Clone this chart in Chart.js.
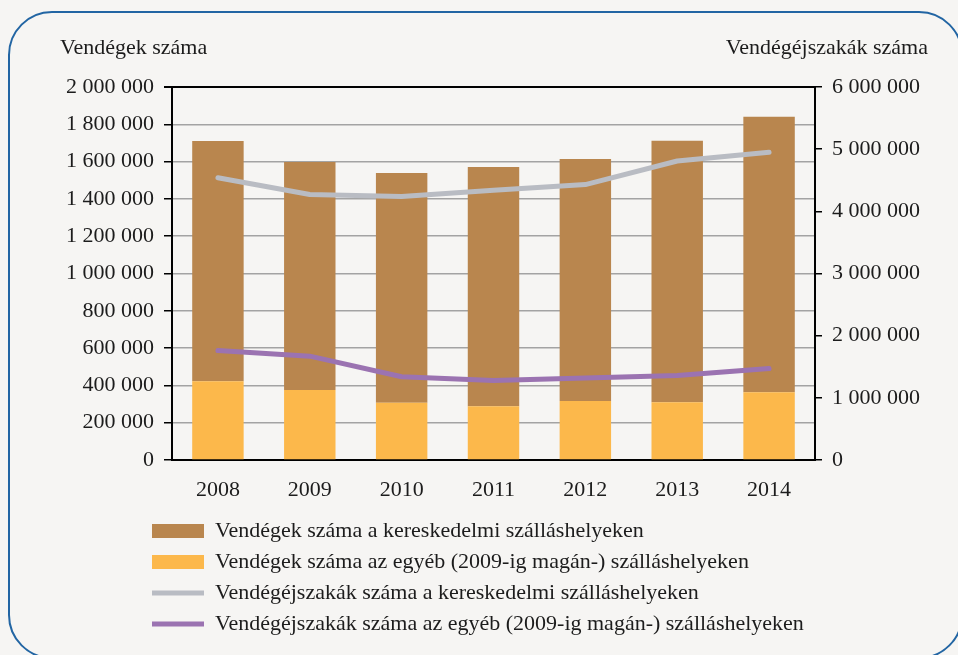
<!DOCTYPE html>
<html lang="hu">
<head>
<meta charset="utf-8">
<title>Vendégek és vendégéjszakák száma</title>
<script src="https://cdn.jsdelivr.net/npm/chart.js@4.4.1/dist/chart.umd.min.js"></script>
<style>
  html, body { margin: 0; padding: 0; background: #f6f5f3; overflow: hidden; }
  #wrap { position: relative; width: 958px; height: 655px; }
  #frame {
    position: absolute; left: 8px; top: 11px; width: 955px; height: 648px;
    border: 2px solid #2265a3; border-radius: 44px; box-sizing: border-box;
  }
  #chart { position: absolute; left: 0; top: 0; }
</style>
</head>
<body>
<div id="wrap">
  <div id="frame"></div>
  <canvas id="chart" width="958" height="655"></canvas>
</div>
<script>
// Years on the category axis
const years = ['2008', '2009', '2010', '2011', '2012', '2013', '2014'];

// Guests (left axis), stacked bars
const guestsOther = [422000, 375000, 307000, 288000, 316000, 309000, 363000];
const guestsCommercial = [1289000, 1223000, 1232000, 1283000, 1298000, 1403000, 1477000];

// Guest nights (right axis), lines
const nightsCommercial = [4540000, 4270000, 4240000, 4340000, 4430000, 4810000, 4950000];
const nightsOther = [1760000, 1670000, 1340000, 1280000, 1320000, 1360000, 1470000];

// Series names
const seriesNames = [
  'Vendégek száma a kereskedelmi szálláshelyeken',
  'Vendégek száma az egyéb (2009-ig magán-) szálláshelyeken',
  'Vendégéjszakák száma a kereskedelmi szálláshelyeken',
  'Vendégéjszakák száma az egyéb (2009-ig magán-) szálláshelyeken'
];

// Axis titles
const leftTitle = 'Vendégek száma';
const rightTitle = 'Vendégéjszakák száma';

const FONT = "'Liberation Serif', 'DejaVu Serif', serif";
const TEXT = '#1c1c1c';
Chart.defaults.font.family = FONT;
Chart.defaults.font.size = 22;
Chart.defaults.color = TEXT;

const fmt = v => String(v).replace(/\B(?=(\d{3})+(?!\d))/g, ' ');

// Axis titles written horizontally above both value axes
const axisTitles = {
  id: 'axisTitles',
  afterDraw(chart) {
    const ctx = chart.ctx;
    ctx.save();
    ctx.font = '22px ' + FONT;
    ctx.fillStyle = TEXT;
    ctx.textBaseline = 'middle';
    ctx.textAlign = 'left';
    ctx.fillText(leftTitle, 60, 48);
    ctx.textAlign = 'right';
    ctx.fillText(rightTitle, 928, 48);
    ctx.restore();
  }
};

// Left-aligned legend column under the plot
const legendShift = {
  id: 'legendShift',
  afterLayout(chart) {
    if (chart.legend) chart.legend.left = 143;
  }
};

// Legend order: bars first (top segment first), then lines
const legendRank = [1, 0, 2, 3];

new Chart(document.getElementById('chart'), {
  data: {
    labels: years,
    datasets: [
      {
        type: 'bar', label: seriesNames[1], data: guestsOther,
        backgroundColor: '#fcb84b', yAxisID: 'y', stack: 'guests', order: 1,
        pointStyle: 'rect'
      },
      {
        type: 'bar', label: seriesNames[0], data: guestsCommercial,
        backgroundColor: '#b9864e', yAxisID: 'y', stack: 'guests', order: 1,
        pointStyle: 'rect'
      },
      {
        type: 'line', label: seriesNames[2], data: nightsCommercial,
        borderColor: '#b9bcc3', backgroundColor: '#b9bcc3', borderWidth: 5,
        borderCapStyle: 'round', borderJoinStyle: 'round',
        pointRadius: 0, pointStyle: 'line', yAxisID: 'y1', order: 0, tension: 0
      },
      {
        type: 'line', label: seriesNames[3], data: nightsOther,
        borderColor: '#9b73b1', backgroundColor: '#9b73b1', borderWidth: 5,
        borderCapStyle: 'round', borderJoinStyle: 'round',
        pointRadius: 0, pointStyle: 'line', yAxisID: 'y1', order: 0, tension: 0
      }
    ]
  },
  options: {
    responsive: false,
    animation: false,
    layout: { padding: { top: 87, bottom: 10, left: 0, right: 0 } },
    datasets: {
      bar: { categoryPercentage: 1, barPercentage: 0.56 }
    },
    scales: {
      x: {
        stacked: true,
        grid: { display: false, drawTicks: false },
        border: { display: true, color: '#000', width: 2 },
        ticks: { padding: 17, color: TEXT },
        afterFit(scale) { scale.height = 51; }
      },
      y: {
        position: 'left', stacked: true, min: 0, max: 2000000,
        ticks: { stepSize: 200000, padding: 10, color: TEXT, callback: v => fmt(v) },
        grid: {
          color: c => (c.tick && c.tick.value === 2000000) ? '#000' : '#a3a3a3',
          lineWidth: c => (c.tick && c.tick.value === 2000000) ? 2 : 1.5,
          tickColor: '#000', tickLength: 8
        },
        border: { display: true, color: '#000', width: 2 },
        afterFit(scale) { scale.width = 172; }
      },
      y1: {
        position: 'right', min: 0, max: 6000000,
        ticks: { stepSize: 1000000, padding: 10, color: TEXT, callback: v => fmt(v) },
        grid: { drawOnChartArea: false, tickColor: '#000', tickLength: 7, lineWidth: 1.5 },
        border: { display: true, color: '#000', width: 2 },
        afterFit(scale) { scale.width = 143; }
      }
    },
    plugins: {
      tooltip: { enabled: false },
      legend: {
        position: 'bottom',
        align: 'start',
        labels: {
          usePointStyle: true,
          pointStyleWidth: 52,
          boxHeight: 14,
          padding: 9,
          color: TEXT,
          font: { size: 22, family: FONT },
          sort: (a, b) => legendRank[a.datasetIndex] - legendRank[b.datasetIndex]
        }
      }
    }
  },
  plugins: [axisTitles, legendShift]
});
</script>
</body>
</html>
